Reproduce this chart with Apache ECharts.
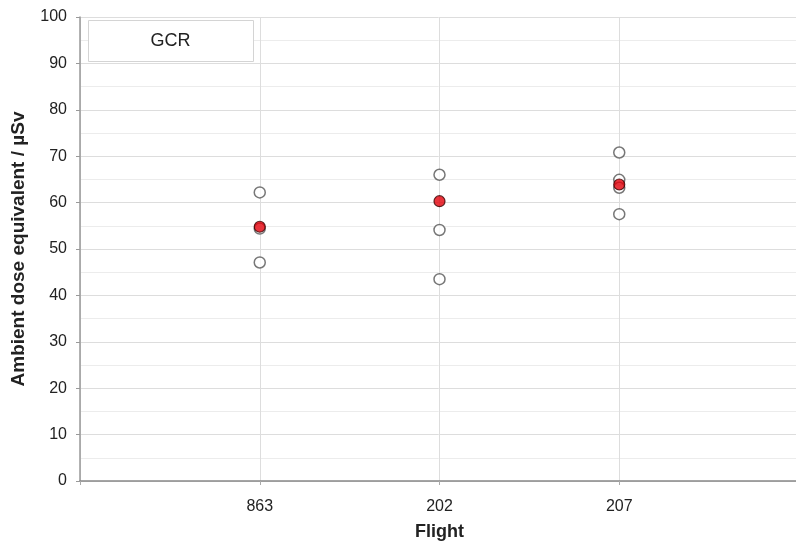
<!DOCTYPE html>
<html>
<head>
<meta charset="utf-8">
<script src="https://cdn.jsdelivr.net/npm/echarts@6/dist/echarts.min.js"></script>
<style>
  html, body { margin: 0; padding: 0; background: #fff; }
  #chart { width: 796px; height: 541px; }
</style>
</head>
<body>
<div id="chart"></div>
<script>
// Flights on the x axis (positions 1..3)
const flights = ['863', '202', '207'];
// Individual measurements per flight (µSv)
const measured863 = [62.2, 54.4, 47.1];
const measured202 = [66.0, 54.1, 43.5];
const measured207 = [70.8, 64.9, 63.2, 57.5];
// Mean value per flight (µSv)
const meanValues = [54.8, 60.3, 63.9];
const yTicks = [0, 10, 20, 30, 40, 50, 60, 70, 80, 90, 100];

const measuredSets = [measured863, measured202, measured207];
const measuredPoints = [];
measuredSets.forEach((vals, i) => vals.forEach(v => measuredPoints.push([i + 1, v])));
const meanPoints = meanValues.map((v, i) => [i + 1, v]);

const chart = echarts.init(document.getElementById('chart'));
chart.setOption({
  animation: false,
  grid: { left: 80, top: 17, width: 719, height: 464, containLabel: false, outerBoundsMode: 'none' },
  xAxis: {
    type: 'value', min: 0, max: 4, interval: 1,
    name: 'Flight', nameLocation: 'middle', nameGap: 42,
    nameTextStyle: { fontFamily: 'Liberation Sans', fontWeight: 'bold', fontSize: 18, color: '#222' },
    axisLine: { show: true, lineStyle: { color: '#888', width: 1.5 } },
    axisTick: { show: true, length: 4, lineStyle: { color: '#aaa' } },
    axisLabel: {
      margin: 18, fontFamily: 'Liberation Sans', fontSize: 16, color: '#222',
      formatter: v => (v >= 1 && v <= flights.length) ? flights[v - 1] : ''
    },
    splitLine: { show: true, lineStyle: { color: '#ddd', width: 1 } }
  },
  yAxis: {
    type: 'value', min: yTicks[0], max: yTicks[yTicks.length - 1], interval: 10,
    name: 'Ambient dose equivalent / µSv', nameLocation: 'middle', nameGap: 52,
    nameTextStyle: { fontFamily: 'Liberation Sans', fontWeight: 'bold', fontSize: 19, color: '#222' },
    axisLine: { show: true, lineStyle: { color: '#999', width: 1.5 } },
    axisTick: { show: true, length: 4, lineStyle: { color: '#999' } },
    axisLabel: { margin: 13, fontFamily: 'Liberation Sans', fontSize: 16, color: '#222' },
    splitLine: { show: true, lineStyle: { color: '#ddd', width: 1 } },
    minorTick: { show: false, splitNumber: 2 },
    minorSplitLine: { show: true, lineStyle: { color: '#ececec', width: 1 } }
  },
  graphic: [{
    type: 'group', left: 88, top: 20, z: 100,
    children: [
      { type: 'rect', z: 100, shape: { x: 0, y: 0, width: 165, height: 41 },
        style: { fill: '#fff', stroke: '#d4d4d4', lineWidth: 1 } },
      { type: 'text', z: 101, x: 82, y: 21,
        style: { text: 'GCR', fontFamily: 'Liberation Sans', fontSize: 18, fill: '#222',
                 align: 'center', verticalAlign: 'middle' } }
    ]
  }],
  series: [
    {
      type: 'scatter', data: measuredPoints, symbol: 'circle', symbolSize: 11,
      itemStyle: { color: '#fff', borderColor: '#555', borderWidth: 1.5 }, z: 3
    },
    {
      type: 'scatter', data: meanPoints, symbol: 'circle', symbolSize: 11,
      itemStyle: { color: '#e4000a', borderColor: '#3a0000', borderWidth: 1.2 }, z: 4
    }
  ]
});
</script>
</body>
</html>
